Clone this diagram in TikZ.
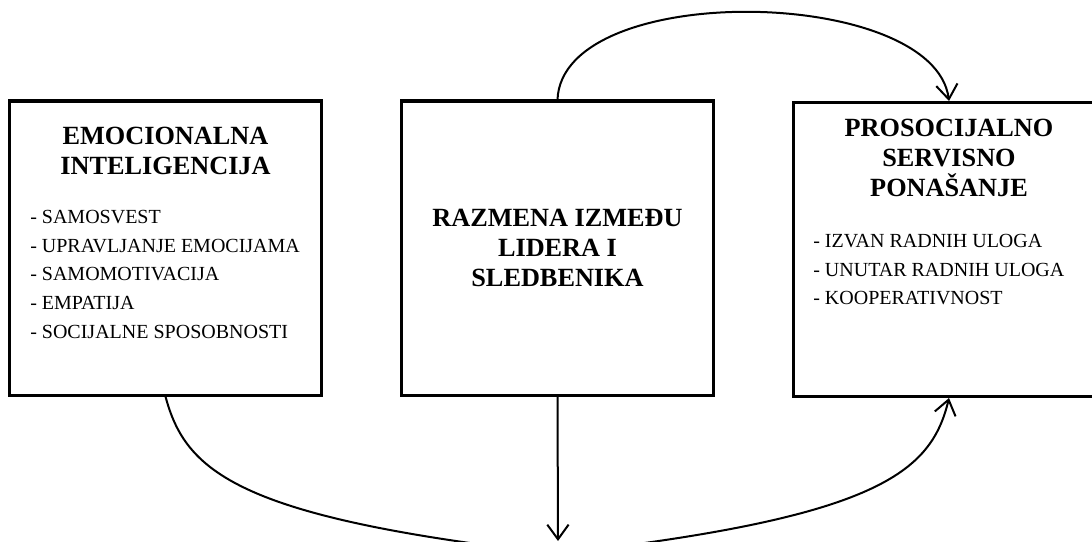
\documentclass[tikz,border=0pt]{standalone}
\usepackage{fontspec}
\setmainfont{Liberation Serif}
\usetikzlibrary{arrows.meta}

\begin{document}
\begin{tikzpicture}[x=0.75pt, y=-0.75pt,
  box/.style={draw, line width=2.25pt, minimum width=234pt, minimum height=220.5pt, inner sep=0pt},
  title/.style={font=\fontsize{19.7}{22.5}\selectfont\bfseries, align=center, inner sep=0pt},
  items/.style={font=\fontsize{15}{21.5}\selectfont, align=left, inner sep=0pt, anchor=north west},
  link/.style={line width=1.5pt, -{Straight Barb[length=11pt,width=16pt]}}]
\clip (0,0) rectangle (1092,542); % page frame

\node[box] (emocionalna) at (165.5,248) {}; % left box
\node[title] (emoTitle) at (165.5,151) {EMOCIONALNA\\INTELIGENCIJA}; % left title
\node[items] (emoItems) at (30,210) {- SAMOSVEST\\- UPRAVLJANJE EMOCIJAMA\\- SAMOMOTIVACIJA\\- EMPATIJA\\- SOCIJALNE SPOSOBNOSTI}; % left list

\node[box] (razmena) at (557.5,248) {}; % middle box
\node[title] (razTitle) at (557.5,248) {RAZMENA IZMEĐU\\LIDERA I\\SLEDBENIKA}; % middle title

\node[box] (prosocijalno) at (949,249.5) {}; % right box
\node[title] (proTitle) at (949,158) {PROSOCIJALNO\\SERVISNO\\PONAŠANJE}; % right title
\node[items] (proItems) at (813,234) {- IZVAN RADNIH ULOGA\\- UNUTAR RADNIH ULOGA\\- KOOPERATIVNOST}; % right list

\coordinate (kraj) at (558,541); % end of the down arrow
\coordinate (dno) at (557,554); % bottom of the lower arc, below the page

\draw[link] (razmena.north) .. controls +(5,-120) and +(-15,-115) .. (prosocijalno.north); % top arc
\draw[link] (emocionalna.south) .. controls +(20,75) and +(-320,-36) .. (dno)
  .. controls +(320,-36) and +(-18,75) .. (prosocijalno.south); % bottom arc
\draw[link] (razmena.south) -- (kraj); % down arrow

\end{tikzpicture}
\end{document}
